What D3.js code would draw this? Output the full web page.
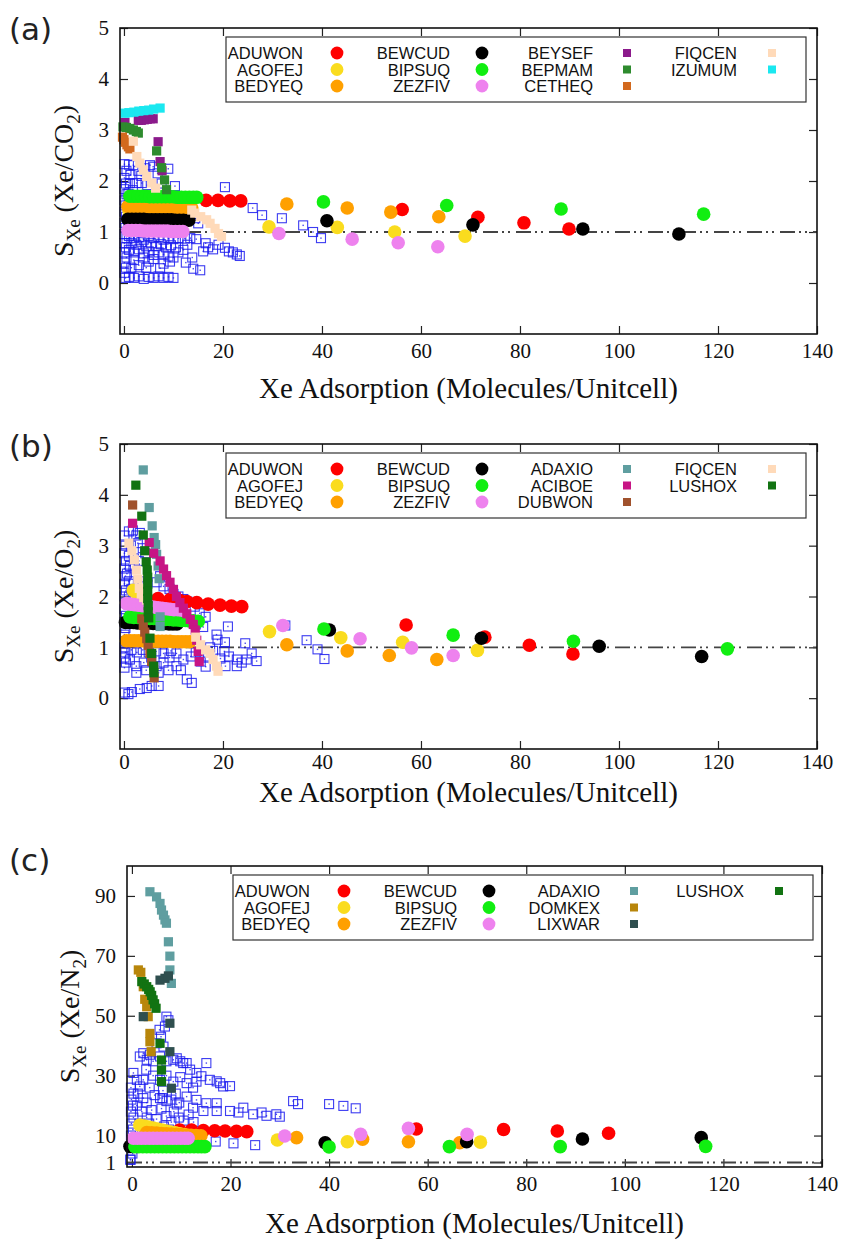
<!DOCTYPE html>
<html>
<head>
<meta charset="utf-8">
<script src="https://cdn.jsdelivr.net/npm/d3@7/dist/d3.min.js"></script>
<style>
  html, body { margin: 0; padding: 0; background: #fff; }
  svg { display: block; }
</style>
</head>
<body>
<svg id="fig" width="843" height="1241"></svg>
<script>
// ---------- shared ticks ----------
const xTickValues = [0, 20, 40, 60, 80, 100, 120, 140];
const yTicksAB = [0, 1, 2, 3, 4, 5];
const yTicksC = [1, 10, 30, 50, 70, 90];

// ---------- panel (a): S_Xe (Xe/CO2) ----------
const a_ADUWON_x = [16.6, 19.0, 21.4, 23.6, 56.2, 71.5, 80.8, 89.9];
const a_ADUWON_y = [1.62, 1.62, 1.61, 1.61, 1.44, 1.29, 1.18, 1.06];
const a_AGOFEJ_x = [1.0, 2.2, 3.4, 4.6, 5.8, 7.0, 8.2, 9.4, 10.6, 11.8, 12.8, 29.3, 43.1, 54.7, 68.9];
const a_AGOFEJ_y = [1.43, 1.43, 1.43, 1.42, 1.42, 1.42, 1.42, 1.41, 1.41, 1.41, 1.40, 1.10, 1.09, 1.00, 0.92];
const a_BEDYEQ_x = [0.8, 1.6, 2.4, 3.2, 4.0, 4.8, 5.6, 6.4, 7.2, 8.0, 8.8, 9.6, 10.4, 11.2, 12.0, 12.9, 13.7, 32.9, 45.1, 53.9, 63.6];
const a_BEDYEQ_y = [1.50, 1.50, 1.50, 1.50, 1.49, 1.49, 1.49, 1.49, 1.49, 1.49, 1.48, 1.48, 1.48, 1.48, 1.48, 1.48, 1.47, 1.55, 1.47, 1.39, 1.30];
const a_BEWCUD_x = [0.8, 1.6, 2.4, 3.2, 4.0, 4.8, 5.6, 6.4, 7.2, 8.0, 8.8, 9.6, 10.4, 11.2, 12.0, 13.1, 41.0, 70.5, 92.7, 112.1];
const a_BEWCUD_y = [1.25, 1.25, 1.25, 1.25, 1.25, 1.24, 1.24, 1.24, 1.24, 1.24, 1.24, 1.24, 1.23, 1.23, 1.23, 1.23, 1.22, 1.14, 1.06, 0.96];
const a_BIPSUQ_x = [1.2, 2.0, 2.8, 3.6, 4.4, 5.2, 6.0, 6.8, 7.6, 8.4, 9.2, 10.0, 10.8, 11.6, 12.4, 13.2, 14.0, 14.7, 40.3, 65.2, 88.3, 117.1];
const a_BIPSUQ_y = [1.70, 1.70, 1.70, 1.70, 1.70, 1.69, 1.69, 1.69, 1.69, 1.69, 1.69, 1.69, 1.68, 1.68, 1.68, 1.68, 1.68, 1.68, 1.59, 1.52, 1.45, 1.35];
const a_ZEZFIV_x = [0.8, 1.6, 2.4, 3.2, 4.0, 4.8, 5.6, 6.4, 7.2, 8.0, 8.8, 9.6, 10.4, 11.2, 11.9, 31.3, 46.1, 55.4, 63.4];
const a_ZEZFIV_y = [1.03, 1.03, 1.03, 1.03, 1.02, 1.02, 1.02, 1.02, 1.02, 1.02, 1.02, 1.01, 1.01, 1.01, 1.01, 0.97, 0.86, 0.79, 0.71];
const a_BEYSEF_x = [0.2, 2.9, 3.5, 4.1, 4.7, 5.3, 5.9, 6.9, 7.3, 7.7];
const a_BEYSEF_y = [3.15, 3.19, 3.19, 3.2, 3.21, 3.22, 3.22, 2.77, 2.38, 2.2];
const a_BEPMAM_x = [-0.2, 0.5, 1.2, 1.9, 2.5, 2.9, 6.6, 7.6, 8.2, 8.6];
const a_BEPMAM_y = [3.06, 3.05, 3.03, 3.0, 2.97, 2.94, 2.59, 2.26, 2.02, 1.83];
const a_CETHEQ_x = [-0.3, 0.0, 0.3, 0.6, 0.9, 1.2];
const a_CETHEQ_y = [2.86, 2.81, 2.76, 2.71, 2.67, 2.63];
const a_FIQCEN_x = [1.9, 2.6, 3.2, 3.9, 4.6, 5.6, 6.4, 13.7, 14.3, 15.5, 16.7, 17.4, 18.4, 19.1, 19.7];
const a_FIQCEN_y = [2.78, 2.48, 2.35, 2.22, 2.09, 1.96, 1.86, 1.43, 1.37, 1.3, 1.24, 1.17, 1.07, 0.97, 0.91];
const a_IZUMUM_x = [0.2, 1.0, 2.0, 3.0, 4.0, 5.0, 6.0, 7.3];
const a_IZUMUM_y = [3.33, 3.34, 3.35, 3.37, 3.38, 3.39, 3.41, 3.43];
const a_others = [
  [0.1,2.33],[0.5,2.2],[0.1,2.06],[0.4,1.95],[0.1,1.84],[0.5,1.74],[0.1,1.62],[0.3,1.52],[0.1,1.4],[0.4,1.3],[0.1,1.18],
  [0.3,1.08],[0.1,0.96],[0.5,0.88],[0.1,0.78],[0.4,0.7],[0.1,0.6],[0.5,0.5],[0.1,0.4],[0.4,0.3],[0.1,0.2],[0.3,0.1],
  [1.0,2.32],[1.9,2.31],[2.9,2.2],[4.3,2.25],[5.25,2.31],[5.9,2.28],[8.95,2.24],[1.3,2.12],[3.5,2.1],[6.8,2.15],
  [1.2,1.96],[2.55,1.96],[3.6,1.96],[4.7,1.92],[10.3,1.9],[0.9,1.75],[1.8,1.82],[7.6,1.95],
  [1.0,1.55],[1.2,1.35],[0.9,1.12],[1.8,1.1],[14.4,1.27],[15.0,1.17],
  [20.4,1.88],[26.0,1.47],[27.9,1.33],[31.9,1.27],[36.2,1.13],[38.2,1.0],[39.8,0.88],
  [1.0,0.92],[2.0,0.88],[3.0,0.9],[4.0,0.85],[5.0,0.92],[6.0,0.88],[7.0,0.9],[8.0,0.85],[9.0,0.88],[10.0,0.86],
  [11.0,0.88],[12.3,0.87],[13.4,0.88],[14.6,0.86],
  [1.5,0.78],[2.5,0.75],[3.5,0.8],[4.5,0.72],[5.5,0.78],[6.5,0.72],[7.5,0.76],[8.5,0.7],[9.5,0.74],[10.5,0.7],
  [1.0,0.65],[2.0,0.6],[3.0,0.66],[4.0,0.58],[5.0,0.62],[6.0,0.55],[7.0,0.6],[8.0,0.56],[9.0,0.52],[11.0,0.6],[12.0,0.65],[12.8,0.75],
  [16.0,0.62],[17.0,0.7],[18.0,0.66],[19.1,0.75],[20.4,0.69],[21.2,0.62],[22.0,0.6],[22.8,0.56],[23.4,0.53],[16.5,0.78],[13.8,0.5],
  [2.0,0.45],[3.9,0.5],[5.0,0.42],[6.0,0.47],[7.3,0.29],[8.0,0.38],[9.3,0.42],[4.5,0.3],[3.0,0.35],[1.5,0.3],[10.0,0.5],
  [14.0,0.28],[15.4,0.25],[12.5,0.4],
  [1.0,0.12],[2.0,0.1],[3.0,0.13],[4.0,0.08],[5.0,0.12],[6.0,0.1],[7.0,0.13],[8.0,0.1],[9.0,0.12],[10.0,0.1]
];

// ---------- panel (b): S_Xe (Xe/O2) ----------
const b_ADUWON_x = [6.9, 9.3, 11.3, 12.7, 14.7, 17.0, 19.4, 21.7, 23.8, 57.0, 72.9, 81.9, 90.7];
const b_ADUWON_y = [1.96, 1.94, 1.92, 1.9, 1.88, 1.85, 1.83, 1.81, 1.80, 1.44, 1.2, 1.04, 0.87];
const b_AGOFEJ_x = [1.9, 2.7, 29.4, 43.8, 56.3, 71.4];
const b_AGOFEJ_y = [2.12, 2.04, 1.31, 1.19, 1.10, 0.94];
const b_BEDYEQ_x = [0.5, 1.3, 2.1, 2.9, 3.7, 4.5, 5.3, 6.1, 6.9, 7.7, 8.5, 9.3, 10.1, 10.9, 11.7, 12.5, 13.3, 32.9, 45.1, 53.6, 63.2];
const b_BEDYEQ_y = [1.13, 1.13, 1.13, 1.13, 1.13, 1.12, 1.12, 1.12, 1.12, 1.12, 1.12, 1.12, 1.11, 1.11, 1.11, 1.11, 1.11, 1.05, 0.93, 0.84, 0.76];
const b_BEWCUD_x = [0.3, 1.1, 1.9, 2.7, 3.5, 4.3, 5.1, 5.9, 6.7, 7.5, 8.3, 9.1, 9.9, 10.7, 41.5, 72.2, 96.0, 116.7];
const b_BEWCUD_y = [1.49, 1.49, 1.49, 1.48, 1.48, 1.48, 1.48, 1.47, 1.47, 1.47, 1.47, 1.46, 1.46, 1.46, 1.34, 1.18, 1.02, 0.82];
const b_BIPSUQ_x = [1.2, 2.0, 2.8, 3.6, 4.4, 5.2, 6.0, 6.8, 7.6, 8.4, 9.2, 10.0, 10.8, 11.6, 12.4, 13.2, 14.0, 15.0, 40.4, 66.5, 90.8, 121.9];
const b_BIPSUQ_y = [1.60, 1.59, 1.59, 1.58, 1.58, 1.57, 1.57, 1.56, 1.56, 1.55, 1.55, 1.54, 1.54, 1.53, 1.53, 1.52, 1.52, 1.51, 1.36, 1.24, 1.12, 0.97];
const b_ZEZFIV_x = [0.5, 1.3, 2.1, 2.9, 3.7, 4.5, 5.3, 6.1, 6.9, 7.7, 8.5, 9.3, 10.1, 10.9, 11.7, 32.1, 47.7, 58.1, 66.5];
const b_ZEZFIV_y = [1.86, 1.85, 1.84, 1.83, 1.82, 1.81, 1.80, 1.79, 1.78, 1.77, 1.76, 1.75, 1.74, 1.74, 1.73, 1.43, 1.17, 0.99, 0.84];
const b_ADAXIO_x = [3.9, 5.1, 5.7, 6.1, 6.4, 6.6, 6.9, 7.1, 7.3, 7.3];
const b_ADAXIO_y = [4.49, 3.75, 3.39, 3.16, 3.02, 2.83, 2.6, 2.35, 1.6, 1.41];
const b_ACIBOE_x = [1.75, 5.1, 6.0, 7.3, 8.0, 8.6, 9.3, 10.0, 10.6, 11.3, 12.0, 12.7, 13.4, 14.0, 14.4, 14.7, 15.0, 15.2];
const b_ACIBOE_y = [3.44, 3.06, 2.85, 2.7, 2.54, 2.41, 2.28, 2.14, 2.0, 1.88, 1.77, 1.66, 1.55, 1.45, 1.34, 1.14, 0.92, 0.72];
const b_DUBWON_x = [1.75, 3.6, 3.9, 4.2, 4.6, 4.9, 5.25, 5.6, 6.0, 6.1];
const b_DUBWON_y = [3.8, 1.56, 1.43, 1.3, 1.17, 1.04, 0.88, 0.72, 0.56, 0.4];
const b_FIQCEN_x = [1.0, 1.6, 2.1, 2.5, 2.8, 3.1, 3.5, 4.0, 4.6, 14.5, 15.5, 16.5, 17.4, 18.0, 18.7, 19.0];
const b_FIQCEN_y = [3.05, 2.9, 2.72, 2.52, 2.34, 2.16, 2.05, 1.98, 1.93, 1.2, 1.05, 0.95, 0.88, 0.76, 0.63, 0.53];
const b_LUSHOX_x = [2.4, 3.6, 3.9, 4.2, 4.5, 4.7, 4.8, 4.8, 4.8, 4.8, 4.9, 4.9, 5.0, 5.25, 5.6, 6.0, 6.05];
const b_LUSHOX_y = [4.19, 3.58, 3.21, 2.9, 2.68, 2.52, 2.38, 2.24, 2.1, 1.96, 1.82, 1.7, 1.58, 1.18, 0.88, 0.63, 0.5];
const b_others = [
  [0.1,3.2],[0.3,3.0],[0.1,2.85],[0.4,2.7],[0.1,2.55],[0.3,2.4],[0.1,2.25],[0.4,2.12],[0.1,2.0],[0.3,1.88],[0.1,1.75],
  [0.4,1.62],[0.1,1.5],[0.3,1.38],[0.1,1.25],[0.4,1.12],[0.1,1.0],[0.3,0.9],[0.1,0.8],[0.4,0.7],[0.1,0.6],
  [1.0,3.28],[1.8,3.3],[2.5,3.2],[3.2,3.25],[1.4,3.0],[2.8,3.05],[3.8,2.95],[1.0,2.8],[2.0,2.75],[3.0,2.7],[1.2,2.6],
  [2.2,2.55],[0.6,2.45],[4.3,2.85],
  [1.0,2.3],[2.0,2.25],[3.0,2.3],[1.5,2.15],[2.7,2.1],[3.7,2.2],[1.0,2.0],[2.2,1.95],[3.3,2.0],[4.4,2.05],
  [6.6,2.28],[8.0,2.2],[9.2,2.15],[10.0,2.05],[11.0,2.0],[12.0,1.95],[12.8,1.9],[7.3,2.4],
  [14.3,1.8],[15.3,1.67],[16.5,1.6],[14.5,1.45],[16.0,1.4],
  [21.0,1.41],[18.7,1.25],[18.9,1.15],[20.4,1.1],
  [17.4,1.0],[18.0,0.93],[20.3,0.92],[21.2,0.82],[22.8,0.76],[23.8,0.7],[24.8,0.76],[26.8,0.73],[25.8,0.88],[20.5,0.63],
  [22.8,0.63],[24.5,1.08],[19.5,0.78],[17.0,0.82],
  [36.9,1.14],[39.1,0.96],[40.5,0.77],[32.6,1.43],
  [1.5,0.95],[2.6,0.9],[3.8,0.95],[5.0,0.9],[6.5,0.92],[8.0,0.88],[9.5,0.93],[10.6,0.88],[1.2,0.76],[2.5,0.63],[4.0,0.7],
  [5.5,0.8],[6.6,0.63],[8.0,0.7],[9.2,0.8],[10.6,0.63],[12.0,0.76],[13.5,0.82],[2.5,0.5],[4.5,0.55],[7.0,0.5],[9.0,0.55],[11.5,0.55],
  [14.5,0.9],[15.5,0.72],[16.5,0.62],
  [12.7,0.37],[13.7,0.3],[3.2,0.18],[4.6,0.2],[5.6,0.24],[7.0,0.24],[0.2,0.11],[0.9,0.08],[1.6,0.12]
];

// ---------- panel (c): S_Xe (Xe/N2) ----------
const c_ADUWON_x = [9.7, 12.1, 14.5, 16.8, 18.9, 21.2, 23.3, 57.7, 75.4, 86.3, 96.7];
const c_ADUWON_y = [11.85, 11.8, 11.7, 11.6, 11.5, 11.4, 11.3, 12.2, 12.0, 11.5, 10.75];
const c_AGOFEJ_x = [1.6, 2.5, 3.4, 4.3, 5.2, 6.1, 7.0, 7.9, 8.8, 9.7, 10.6, 11.5, 12.4, 29.5, 43.7, 70.7];
const c_AGOFEJ_y = [13.5, 13.2, 12.8, 12.5, 12.2, 11.8, 11.5, 11.2, 10.9, 10.6, 10.3, 10.0, 9.7, 8.5, 7.95, 7.8];
const c_BEDYEQ_x = [3.0, 4.0, 5.0, 6.0, 7.0, 8.0, 9.0, 10.0, 11.0, 12.0, 13.0, 14.0, 33.4, 46.8, 56.1, 66.5];
const c_BEDYEQ_y = [11.0, 10.9, 10.8, 10.7, 10.6, 10.5, 10.4, 10.3, 10.2, 10.1, 10.0, 9.9, 9.3, 8.75, 7.95, 7.6];
const c_BEWCUD_x = [-0.4, 0.3, 1.0, 39.2, 67.9, 91.4, 115.5];
const c_BEWCUD_y = [6.4, 6.4, 6.4, 7.6, 7.95, 8.85, 9.3];
const c_BIPSUQ_x = [0.6, 1.4, 2.2, 3.0, 3.8, 4.6, 5.4, 6.2, 7.0, 7.8, 8.6, 9.4, 10.2, 11.0, 11.8, 12.6, 13.4, 14.1, 14.8, 40.0, 64.4, 86.9, 116.4];
const c_BIPSUQ_y = [6.3, 6.3, 6.3, 6.3, 6.3, 6.3, 6.3, 6.3, 6.3, 6.3, 6.3, 6.3, 6.3, 6.3, 6.3, 6.3, 6.3, 6.3, 6.3, 6.2, 6.3, 6.3, 6.4];
const c_ZEZFIV_x = [0.3, 1.1, 1.9, 2.7, 3.5, 4.3, 5.1, 5.9, 6.7, 7.5, 8.3, 9.1, 9.9, 10.7, 11.4, 31.0, 46.4, 56.1, 68.0];
const c_ZEZFIV_y = [9.1, 9.1, 9.1, 9.1, 9.1, 9.1, 9.1, 9.1, 9.1, 9.1, 9.1, 9.1, 9.1, 9.1, 9.1, 9.85, 10.4, 12.4, 10.4];
const c_ADAXIO_x = [3.65, 5.0, 5.7, 6.0, 6.4, 6.7, 7.0, 7.4, 7.7, 7.7, 8.0];
const c_ADAXIO_y = [91.4, 89.7, 87.5, 85.3, 83.6, 82.0, 80.9, 74.7, 69.9, 65.3, 60.8];
const c_DOMKEX_x = [1.3, 1.8, 2.3, 2.6, 3.0, 3.3, 3.65, 3.65, 3.9];
const c_DOMKEX_y = [65.3, 64.5, 59.7, 55.5, 53.0, 49.7, 44.1, 41.3, 38.0];
const c_LIXWAR_x = [2.3, 5.7, 6.7, 7.4, 7.7, 7.7, 8.0];
const c_LIXWAR_y = [49.7, 61.9, 62.5, 63.3, 47.5, 38.0, 25.8];
const c_LUSHOX_x = [2.0, 2.5, 3.0, 3.4, 3.7, 4.0, 4.3, 4.6, 4.9, 5.7, 6.0, 6.0, 6.0];
const c_LUSHOX_y = [61.4, 60.6, 59.7, 58.8, 58.0, 56.8, 55.3, 54.0, 52.5, 40.8, 35.2, 31.9, 28.0];
const c_others = [
  [-0.3,2.0],[0.1,4.0],[-0.2,6.0],[0.2,8.0],[-0.2,10.0],[0.2,12.0],[-0.1,14.0],[0.3,16.0],[-0.2,18.0],[0.2,20.0],[-0.1,22.0],
  [0.3,24.0],[-0.2,26.0],
  [7.0,49.7],[7.4,48.5],[6.7,46.4],[5.6,45.3],[5.9,43.0],[5.0,40.8],[6.4,39.7],
  [1.6,36.4],[2.3,37.5],[3.0,35.3],[3.65,37.0],[4.3,34.8],[5.7,36.4],[7.0,34.8],[8.4,35.3],[9.1,35.8],[9.8,34.8],[10.4,34.2],
  [11.1,34.2],[11.8,32.0],[13.1,30.9],[14.1,29.8],[15.1,34.2],[15.8,28.6],[17.2,28.1],[17.9,27.5],[13.1,28.0],[18.5,26.4],[19.9,26.5],
  [0.3,30.9],[1.0,28.6],[1.6,26.4],[2.3,28.6],
  [2.9,32.0],[4.3,30.0],[5.7,28.6],[7.0,30.0],[8.4,28.0],[9.8,29.5],[11.1,27.5],[12.4,26.0],[3.6,26.0],[6.3,25.0],[8.9,24.0],
  [2.3,22.5],[5.7,22.5],[7.0,21.5],[9.1,20.4],[12.4,19.3],[14.5,18.2],[17.2,18.2],[19.9,18.2],[21.6,17.7],[22.6,19.3],[24.6,17.1],
  [26.3,17.7],[27.3,16.6],[29.3,17.1],[30.0,16.3],[32.7,21.5],[11.1,23.0],[13.1,21.9],[15.1,20.8],[17.2,20.8],[33.7,20.5],
  [40.0,20.5],[42.9,19.9],[45.4,19.1],
  [1.0,20.0],[2.0,18.0],[3.0,16.0],[4.0,18.5],[5.0,15.5],[6.0,19.0],[7.0,16.5],[8.0,14.5],[1.5,14.0],[2.5,12.0],[3.5,14.0],
  [4.5,12.5],[6.5,13.0],[7.5,12.0],[8.5,18.0],[9.5,16.0],[10.5,15.0],[11.5,17.0],[12.5,14.5],[1.2,24.0],[3.0,21.0],[4.6,23.5],
  [6.2,22.5],[8.0,22.0],[9.6,21.0],
  [17.0,8.0],[20.6,7.4],[25.0,6.8],[-0.3,1.9]
];

// ---------- colours per framework ----------
const colours = {
  ADUWON: '#ff0000', AGOFEJ: '#fadc1e', BEDYEQ: '#ffa000', BEWCUD: '#000000', BIPSUQ: '#11ee11', ZEZFIV: '#ee82ee',
  BEYSEF: '#8b1a8b', BEPMAM: '#2e8b2e', CETHEQ: '#d2691e', FIQCEN: '#ffdab9', IZUMUM: '#1ae8f0',
  ADAXIO: '#5f9ea0', ACIBOE: '#c71585', DUBWON: '#a0522d', LUSHOX: '#127312', DOMKEX: '#b8860b', LIXWAR: '#2f4f4f'
};
const othersColour = '#1a1aee';

const serif = '"Liberation Serif", "Times New Roman", serif';
const sans = '"Liberation Sans", Arial, sans-serif';
const intFormat = d3.format('d');

const panels = [
  {
    tag: '(a)', tagBaseline: 40, sub: 'CO', subNum: '2',
    left: 120, right: 817, top: 28, bottom: 334,
    xDomain: [-0.8, 140], yDomain: [-1, 5], yTicks: yTicksAB,
    yTitleX: 73, xTitleBaseline: 398, xTickPad: 9,
    others: a_others,
    circles: [
      ['ADUWON', a_ADUWON_x, a_ADUWON_y], ['AGOFEJ', a_AGOFEJ_x, a_AGOFEJ_y], ['BEDYEQ', a_BEDYEQ_x, a_BEDYEQ_y],
      ['BEWCUD', a_BEWCUD_x, a_BEWCUD_y], ['BIPSUQ', a_BIPSUQ_x, a_BIPSUQ_y], ['ZEZFIV', a_ZEZFIV_x, a_ZEZFIV_y]
    ],
    squares: [
      ['BEYSEF', a_BEYSEF_x, a_BEYSEF_y], ['BEPMAM', a_BEPMAM_x, a_BEPMAM_y], ['CETHEQ', a_CETHEQ_x, a_CETHEQ_y],
      ['FIQCEN', a_FIQCEN_x, a_FIQCEN_y], ['IZUMUM', a_IZUMUM_x, a_IZUMUM_y]
    ],
    legendCols: [['ADUWON', 'AGOFEJ', 'BEDYEQ'], ['BEWCUD', 'BIPSUQ', 'ZEZFIV'], ['BEYSEF', 'BEPMAM', 'CETHEQ'], ['FIQCEN', 'IZUMUM']]
  },
  {
    tag: '(b)', tagBaseline: 457, sub: 'O', subNum: '2',
    left: 120, right: 817, top: 444, bottom: 749,
    xDomain: [-0.8, 140], yDomain: [-1, 5], yTicks: yTicksAB,
    yTitleX: 73, xTitleBaseline: 802, xTickPad: 5,
    others: b_others,
    circles: [
      ['ADUWON', b_ADUWON_x, b_ADUWON_y], ['AGOFEJ', b_AGOFEJ_x, b_AGOFEJ_y], ['BEDYEQ', b_BEDYEQ_x, b_BEDYEQ_y],
      ['BEWCUD', b_BEWCUD_x, b_BEWCUD_y], ['BIPSUQ', b_BIPSUQ_x, b_BIPSUQ_y], ['ZEZFIV', b_ZEZFIV_x, b_ZEZFIV_y]
    ],
    squares: [
      ['ADAXIO', b_ADAXIO_x, b_ADAXIO_y], ['ACIBOE', b_ACIBOE_x, b_ACIBOE_y], ['DUBWON', b_DUBWON_x, b_DUBWON_y],
      ['FIQCEN', b_FIQCEN_x, b_FIQCEN_y], ['LUSHOX', b_LUSHOX_x, b_LUSHOX_y]
    ],
    legendCols: [['ADUWON', 'AGOFEJ', 'BEDYEQ'], ['BEWCUD', 'BIPSUQ', 'ZEZFIV'], ['ADAXIO', 'ACIBOE', 'DUBWON'], ['FIQCEN', 'LUSHOX']]
  },
  {
    tag: '(c)', tagBaseline: 871, sub: 'N', subNum: '2',
    left: 127, right: 822, top: 866, bottom: 1167,
    xDomain: [-1, 140], yDomain: [-0.5, 100], yTicks: yTicksC,
    yTitleX: 79, xTitleBaseline: 1233, xTickPad: 9,
    others: c_others,
    circles: [
      ['ADUWON', c_ADUWON_x, c_ADUWON_y], ['AGOFEJ', c_AGOFEJ_x, c_AGOFEJ_y], ['BEDYEQ', c_BEDYEQ_x, c_BEDYEQ_y],
      ['BEWCUD', c_BEWCUD_x, c_BEWCUD_y], ['BIPSUQ', c_BIPSUQ_x, c_BIPSUQ_y], ['ZEZFIV', c_ZEZFIV_x, c_ZEZFIV_y]
    ],
    squares: [
      ['ADAXIO', c_ADAXIO_x, c_ADAXIO_y], ['DOMKEX', c_DOMKEX_x, c_DOMKEX_y], ['LIXWAR', c_LIXWAR_x, c_LIXWAR_y],
      ['LUSHOX', c_LUSHOX_x, c_LUSHOX_y]
    ],
    legendCols: [['ADUWON', 'AGOFEJ', 'BEDYEQ'], ['BEWCUD', 'BIPSUQ', 'ZEZFIV'], ['ADAXIO', 'DOMKEX', 'LIXWAR'], ['LUSHOX']]
  }
];

const circleNames = new Set(['ADUWON', 'AGOFEJ', 'BEDYEQ', 'BEWCUD', 'BIPSUQ', 'ZEZFIV']);
const svg = d3.select('#fig');

function drawPanel(P) {
  const g = svg.append('g');
  const x = d3.scaleLinear().domain(P.xDomain).range([P.left, P.right]);
  const y = d3.scaleLinear().domain(P.yDomain).range([P.bottom, P.top]);

  // panel tag
  g.append('text').attr('x', 9).attr('y', P.tagBaseline)
    .style('font-family', '"DejaVu Sans", "Open Sans", sans-serif').style('font-size', '31px').attr('fill', '#222')
    .text(P.tag);

  // axes with inward ticks on all four sides
  const axes = g.append('g').attr('class', 'axes');
  axes.append('g').attr('transform', `translate(0,${P.bottom})`)
    .call(d3.axisBottom(x).tickValues(xTickValues).tickFormat(intFormat).tickSize(-8).tickPadding(P.xTickPad));
  axes.append('g').attr('transform', `translate(0,${P.top})`)
    .call(d3.axisTop(x).tickValues(xTickValues).tickSize(-8).tickFormat(''));
  axes.append('g').attr('transform', `translate(${P.left},0)`)
    .call(d3.axisLeft(y).tickValues(P.yTicks).tickFormat(intFormat).tickSize(-8).tickPadding(11));
  axes.append('g').attr('transform', `translate(${P.right},0)`)
    .call(d3.axisRight(y).tickValues(P.yTicks).tickSize(-8).tickFormat(''));
  axes.selectAll('.domain').remove();
  axes.selectAll('.tick line').attr('stroke', '#222').attr('stroke-width', 1.2);
  axes.selectAll('.tick text').attr('fill', '#111')
    .style('font-family', serif).style('font-size', '21px');

  // reference line S = 1
  g.append('line')
    .attr('x1', x(P.xDomain[0])).attr('x2', x(P.xDomain[1]))
    .attr('y1', y(1)).attr('y2', y(1))
    .attr('stroke', '#444').attr('stroke-width', 1.8)
    .attr('stroke-dasharray', '15,4,2,4,2,6');

  // remaining frameworks: open squares with a centre dot
  const oth = g.append('g');
  oth.selectAll('rect.o').data(P.others).join('rect').attr('class', 'o')
    .attr('x', d => x(d[0]) - 4.5).attr('y', d => y(d[1]) - 4.5)
    .attr('width', 9).attr('height', 9)
    .attr('fill', 'none').attr('stroke', othersColour).attr('stroke-width', 1.1).attr('stroke-opacity', 0.85);
  oth.selectAll('rect.d').data(P.others).join('rect').attr('class', 'd')
    .attr('x', d => x(d[0]) - 0.7).attr('y', d => y(d[1]) - 0.7)
    .attr('width', 1.4).attr('height', 1.4).attr('fill', othersColour).attr('fill-opacity', 0.8);

  // highlighted frameworks: filled circles
  P.circles.forEach(([name, xs, ys]) => {
    g.append('g').selectAll('circle').data(xs.map((v, i) => [v, ys[i]])).join('circle')
      .attr('cx', d => x(d[0])).attr('cy', d => y(d[1])).attr('r', 6.8)
      .attr('fill', colours[name]);
  });
  // highlighted frameworks: filled squares
  P.squares.forEach(([name, xs, ys]) => {
    g.append('g').selectAll('rect').data(xs.map((v, i) => [v, ys[i]])).join('rect')
      .attr('x', d => x(d[0]) - 4.6).attr('y', d => y(d[1]) - 4.6)
      .attr('width', 9.2).attr('height', 9.2)
      .attr('fill', colours[name]);
  });

  // frame
  g.append('rect').attr('x', P.left).attr('y', P.top)
    .attr('width', P.right - P.left).attr('height', P.bottom - P.top)
    .attr('fill', 'none').attr('stroke', '#111').attr('stroke-width', 1.6);

  // legend
  const bx = P.left + 106, by = P.top + 9;
  g.append('rect').attr('x', bx).attr('y', by).attr('width', 580).attr('height', 65)
    .attr('fill', 'none').attr('stroke', '#333').attr('stroke-width', 1.2);
  const textEnds = [183, 330, 473, 617];
  const symbolAt = [217, 362, 507, 652];
  P.legendCols.forEach((col, ci) => {
    col.forEach((name, ri) => {
      const cy = by + 16 + ri * 16.5;
      g.append('text').attr('x', P.left + textEnds[ci]).attr('y', cy + 6)
        .attr('text-anchor', 'end').attr('fill', '#111')
        .style('font-family', sans).style('font-size', '16.5px').text(name);
      const sx = P.left + symbolAt[ci];
      if (circleNames.has(name)) {
        g.append('circle').attr('cx', sx).attr('cy', cy).attr('r', 6.4).attr('fill', colours[name]);
      } else {
        g.append('rect').attr('x', sx - 4).attr('y', cy - 4).attr('width', 8).attr('height', 8).attr('fill', colours[name]);
      }
    });
  });

  // axis titles
  g.append('text').attr('x', (P.left + P.right) / 2).attr('y', P.xTitleBaseline)
    .attr('text-anchor', 'middle').attr('fill', '#111')
    .style('font-family', serif).style('font-size', '29px')
    .text('Xe Adsorption (Molecules/Unitcell)');

  const yt = g.append('text')
    .attr('transform', `translate(${P.yTitleX},${(P.top + P.bottom) / 2}) rotate(-90)`)
    .attr('text-anchor', 'middle').attr('fill', '#111')
    .style('font-family', serif).style('font-size', '28px').style('white-space', 'pre');
  yt.append('tspan').text('S');
  yt.append('tspan').attr('dy', 7).style('font-size', '19px').text('Xe');
  yt.append('tspan').attr('dy', -7).text(' (Xe/' + P.sub);
  yt.append('tspan').attr('dy', 7).style('font-size', '19px').text(P.subNum);
  yt.append('tspan').attr('dy', -7).text(')');
}

panels.forEach(drawPanel);
</script>
</body>
</html>
